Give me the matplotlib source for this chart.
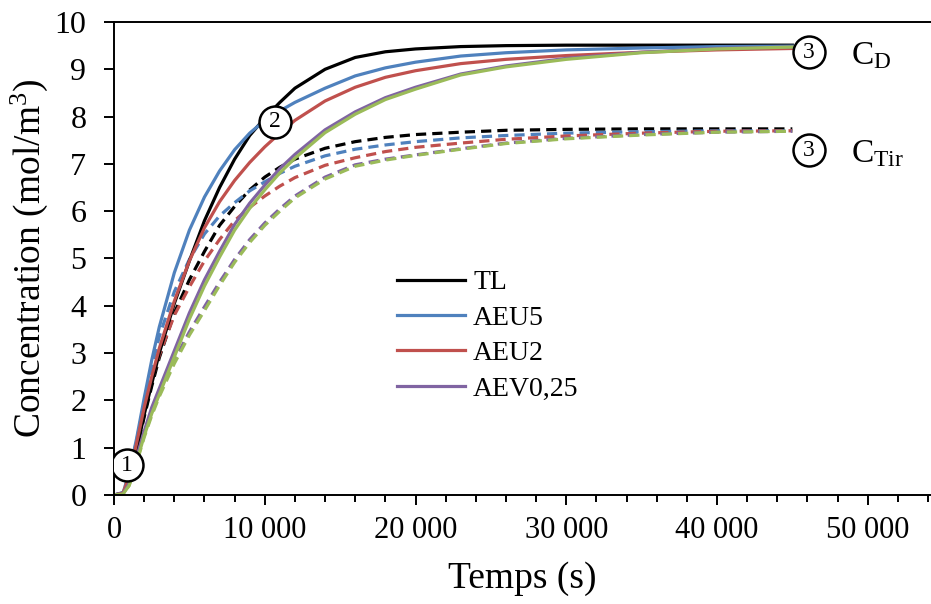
import numpy as np
import matplotlib
matplotlib.use('Agg')
import matplotlib.pyplot as plt

plt.rcParams['font.family'] = ['Liberation Serif', 'DejaVu Serif']
plt.rcParams['mathtext.fontset'] = 'custom'
plt.rcParams['mathtext.rm'] = 'Liberation Serif'
plt.rcParams['mathtext.it'] = 'Liberation Serif:italic'

# time axis (s)
temps = [0, 600, 1000, 1500, 2000, 2500, 3000, 4000, 5000, 6000, 7000, 8000, 9000,
         10000, 11000, 12000, 14000, 16000, 18000, 20000, 23000, 26000, 30000,
         35000, 40000, 45000]

# C_D (solid lines)
cd_tl    = [0, 0.03, 0.3, 0.95, 1.7, 2.35, 3.0, 4.05, 4.95, 5.8, 6.5, 7.1, 7.6,
            7.97, 8.3, 8.6, 9.0, 9.25, 9.37, 9.43, 9.48, 9.5, 9.51, 9.51, 9.51, 9.51]
cd_aeu5  = [0, 0.05, 0.45, 1.2, 2.05, 2.85, 3.55, 4.7, 5.6, 6.3, 6.85, 7.3, 7.65,
            7.92, 8.12, 8.3, 8.6, 8.86, 9.03, 9.15, 9.28, 9.35, 9.41, 9.45, 9.48, 9.49]
cd_aeu2  = [0, 0.04, 0.4, 1.1, 1.85, 2.5, 3.1, 4.1, 4.95, 5.65, 6.2, 6.65, 7.03,
            7.36, 7.65, 7.92, 8.33, 8.62, 8.83, 8.97, 9.12, 9.21, 9.29, 9.36, 9.41, 9.44]
cd_aev   = [0, 0.02, 0.25, 0.8, 1.35, 1.85, 2.25, 3.05, 3.85, 4.55, 5.15, 5.72, 6.17,
            6.55, 6.9, 7.2, 7.72, 8.1, 8.4, 8.62, 8.9, 9.07, 9.23, 9.36, 9.44, 9.47]
cd_vert  = [0, 0.02, 0.2, 0.7, 1.25, 1.72, 2.12, 2.92, 3.72, 4.42, 5.03, 5.6, 6.06,
            6.45, 6.81, 7.12, 7.66, 8.05, 8.36, 8.58, 8.88, 9.05, 9.21, 9.35, 9.43, 9.47]

# C_Tir (dashed lines)
ct_tl    = [0, 0.03, 0.35, 0.95, 1.65, 2.3, 2.9, 3.85, 4.55, 5.15, 5.7, 6.1, 6.45,
            6.72, 6.93, 7.1, 7.33, 7.47, 7.56, 7.62, 7.67, 7.71, 7.73, 7.74, 7.74, 7.74]
ct_aeu5  = [0, 0.05, 0.45, 1.15, 1.95, 2.7, 3.35, 4.3, 4.98, 5.52, 5.9, 6.18, 6.43,
            6.62, 6.8, 6.95, 7.17, 7.31, 7.4, 7.47, 7.55, 7.6, 7.65, 7.68, 7.7, 7.7]
ct_aeu2  = [0, 0.04, 0.4, 1.05, 1.78, 2.4, 2.95, 3.8, 4.4, 4.95, 5.4, 5.8, 6.08,
            6.32, 6.53, 6.71, 6.97, 7.13, 7.26, 7.35, 7.44, 7.52, 7.59, 7.65, 7.69, 7.7]
ct_aev   = [0, 0.02, 0.25, 0.75, 1.3, 1.75, 2.15, 2.85, 3.45, 3.98, 4.5, 4.98, 5.4,
            5.75, 6.05, 6.32, 6.72, 6.98, 7.1, 7.19, 7.32, 7.44, 7.54, 7.62, 7.67, 7.69]
ct_vert  = [0, 0.02, 0.2, 0.68, 1.22, 1.68, 2.08, 2.78, 3.38, 3.9, 4.43, 4.92, 5.34,
            5.7, 6.0, 6.28, 6.68, 6.95, 7.08, 7.18, 7.31, 7.43, 7.53, 7.61, 7.67, 7.69]

noms = ['TL', 'AEU5', 'AEU2', 'AEV0,25', None]
couleurs = ['#000000', '#4F81BD', '#C0504D', '#8064A2', '#9BBB59']

# numbered markers and curve labels
points_x = [840, 10680, 46120, 46120]
points_y = [0.63, 7.89, 9.36, 7.29]
points_txt = ['1', '2', '3', '3']
etiq_x = [48900, 48900]
etiq_y = [9.28, 7.22]
etiq_txt = ['C$_\\mathrm{D}$', 'C$_\\mathrm{Tir}$']

fig = plt.figure(figsize=(9.31, 6.04), dpi=100)
ax = fig.add_axes([0.1225, 0.1805, 0.8775, 0.7831])

cd = [cd_tl, cd_aeu5, cd_aeu2, cd_aev, cd_vert]
ct = [ct_tl, ct_aeu5, ct_aeu2, ct_aev, ct_vert]

for i in range(5):
    ax.plot(temps, ct[i], color=couleurs[i], lw=2.3, dashes=(3.2, 1.9))
for i in range(5):
    if noms[i]:
        ax.plot(temps, cd[i], color=couleurs[i], lw=2.3, label=noms[i])
    else:
        ax.plot(temps, cd[i], color=couleurs[i], lw=2.3)

for x, y, t in zip(points_x, points_y, points_txt):
    ax.plot(x, y, 'o', ms=23, mfc='white', mec='black', mew=1.8, zorder=5)
    ax.text(x, y, t, ha='center', va='center', fontsize=17, zorder=6)

for x, y, t in zip(etiq_x, etiq_y, etiq_txt):
    ax.text(x, y, t, ha='left', va='center', fontsize=24)

ax.set_xlim(0, 54200)
ax.set_ylim(0, 10)
ax.set_xticks(np.arange(0, 50001, 10000))
ax.set_xticks(np.arange(0, 54001, 2000), minor=True)
ax.set_xticklabels(['0', '10 000', '20 000', '30 000', '40 000', '50 000'])
ax.set_yticks(np.arange(0, 11, 1))

ax.spines['right'].set_visible(False)
for s in ['left', 'bottom', 'top']:
    ax.spines[s].set_linewidth(1.4)

ax.tick_params(axis='both', which='major', direction='out', length=7, width=1.4)
ax.tick_params(axis='x', which='major', labelsize=22, pad=8)
ax.tick_params(axis='x', which='minor', direction='out', length=5, width=1.4)
ax.tick_params(axis='y', labelsize=23, pad=13)

ax.set_xlabel('Temps (s)', fontsize=27, labelpad=12)
ax.set_ylabel('Concentration (mol/m$^3$)', fontsize=27, labelpad=3)

ax.legend(loc='upper left', bbox_to_anchor=(0.346, 0.476), frameon=False,
          fontsize=20, handlelength=2.45, handletextpad=0.3, labelspacing=0.36,
          borderpad=0, borderaxespad=0)

plt.savefig('out.png', dpi=100)
